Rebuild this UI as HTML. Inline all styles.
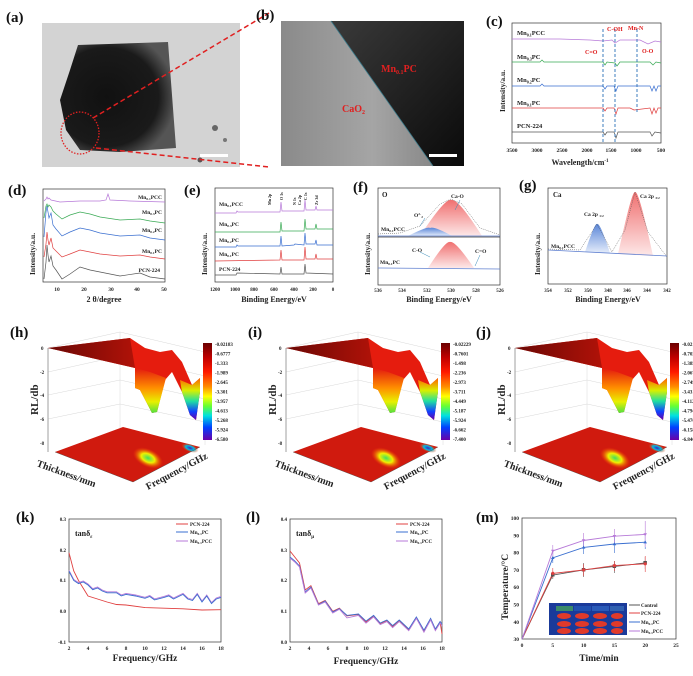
<!DOCTYPE html>
<html><head><meta charset="utf-8"><style>
html,body{margin:0;padding:0;background:#fff}
svg{display:block}
text{font-family:"Liberation Serif",serif;font-weight:bold;fill:#222}
.pl{font-size:15px;fill:#111}
.t{font-size:5.5px}
.al{font-size:9px}
.ax{fill:none;stroke:#333;stroke-width:0.7}
</style></head><body>
<svg width="693" height="676" viewBox="0 0 693 676" xmlns="http://www.w3.org/2000/svg">
<defs>
<linearGradient id="cb" x1="0" y1="0" x2="0" y2="1">
<stop offset="0" stop-color="#6a0000"/><stop offset=".15" stop-color="#c00000"/><stop offset=".3" stop-color="#ff1a00"/><stop offset=".45" stop-color="#ff8c00"/><stop offset=".55" stop-color="#ffff00"/><stop offset=".65" stop-color="#66ff33"/><stop offset=".75" stop-color="#00e0e0"/><stop offset=".87" stop-color="#0040ff"/><stop offset="1" stop-color="#6a00a8"/></linearGradient>
<linearGradient id="dip1" x1="0" y1="0" x2="0" y2="1"><stop offset="0" stop-color="#e31a0e"/><stop offset=".45" stop-color="#ff9000"/><stop offset=".75" stop-color="#e8f000"/><stop offset="1" stop-color="#50e040"/></linearGradient>
<linearGradient id="dip2" x1="0" y1="0" x2="0" y2="1"><stop offset="0" stop-color="#ff6000"/><stop offset=".3" stop-color="#d8f000"/><stop offset=".55" stop-color="#20e0a0"/><stop offset=".8" stop-color="#1040ff"/><stop offset="1" stop-color="#6a00a8"/></linearGradient>
<linearGradient id="wedge" x1="0" y1="0" x2="1" y2="0"><stop offset="0" stop-color="#6a0805"/><stop offset="1" stop-color="#b01208"/></linearGradient>
<radialGradient id="blob" cx=".5" cy=".5" r=".5"><stop offset="0" stop-color="#40e060"/><stop offset=".45" stop-color="#f0f000"/><stop offset="1" stop-color="#ff4000" stop-opacity="0"/></radialGradient>
<radialGradient id="blob2" cx=".5" cy=".5" r=".5"><stop offset="0" stop-color="#4020c0"/><stop offset=".5" stop-color="#00c0e0"/><stop offset="1" stop-color="#ff4000" stop-opacity="0"/></radialGradient>
<radialGradient id="tem" cx=".4" cy=".5" r=".6"><stop offset="0" stop-color="#111"/><stop offset=".75" stop-color="#1a1a1a"/><stop offset="1" stop-color="#555"/></radialGradient>
<linearGradient id="bimg" x1="0" y1="0" x2="1" y2="0"><stop offset="0" stop-color="#8a8a8a"/><stop offset=".5" stop-color="#a5a5a5"/><stop offset="1" stop-color="#7a7a7a"/></linearGradient>
<linearGradient id="bdark" x1="0" y1="0" x2="1" y2="1"><stop offset="0" stop-color="#3a3a3a"/><stop offset="1" stop-color="#0a0a0a"/></linearGradient>
<linearGradient id="redp" x1="0" y1="0" x2="0" y2="1"><stop offset="0" stop-color="#f07070"/><stop offset="1" stop-color="#fde8e8"/></linearGradient>
<linearGradient id="bluep" x1="0" y1="0" x2="0" y2="1"><stop offset="0" stop-color="#5a86d8"/><stop offset="1" stop-color="#e4ecfa"/></linearGradient>
<g id="s3d">
<path d="M48,348 L120,332 L205,352 L205,445 M48,348 L48,452 M120,332 L120,428 M48,372 L120,356 L205,376 M48,395 L120,380 L205,399 M48,419 L120,404 L205,422" fill="none" stroke="#d8d8d8" stroke-width="0.5"/>
<polygon points="55,452 123,427 200,447 133,482" fill="#d01a0e"/>
<ellipse cx="148" cy="458" rx="16" ry="9" fill="url(#blob)" transform="rotate(25 148 458)"/>
<ellipse cx="190" cy="448" rx="9" ry="4" fill="url(#blob2)" transform="rotate(20 190 448)"/>
<path d="M55,452 L133,482 L200,447" fill="none" stroke="#444" stroke-width="0.4"/>
<path d="M48,348 L130,338 L145,348 L160,352 L172,350 L182,362 L192,385 L200,378 L200,392 L196,420 L190,415 L182,392 L172,372 L165,380 L157,412 L152,413 L140,390 L135,388 L135,368 Z" fill="#e51c0e"/>
<path d="M48,348 L130,338 L135,368 Z" fill="url(#wedge)"/>
<path d="M135,368 L150,372 L166,378 L157,412 L152,413 L140,390 L135,388Z" fill="url(#dip1)"/>
<path d="M180,380 L192,385 L200,378 L200,392 L196,420 L190,415 L182,392Z" fill="url(#dip2)"/>
<line x1="48" y1="348" x2="48" y2="452" stroke="#555" stroke-width="0.5"/>
<g class="t" style="font-size:5px"><text x="41" y="350">0</text><text x="40" y="374">-2</text><text x="40" y="397">-4</text><text x="40" y="421">-6</text><text x="40" y="445">-8</text></g>
<rect x="203" y="343" width="9" height="97" fill="url(#cb)"/>
<text class="al" transform="translate(38,415) rotate(-90)" style="font-size:11px">RL/db</text>
<text class="al" transform="translate(36,466) rotate(20)" style="font-size:10px">Thickness/mm</text>
<text class="al" transform="translate(148,490) rotate(-28)" style="font-size:10px">Frequency/GHz</text>
</g>
</defs>

<!-- (a) -->
<text class="pl" x="6" y="22">(a)</text>
<rect x="42" y="23" width="198" height="144" fill="#d6d6d6"/>
<rect x="42" y="23" width="198" height="144" fill="#cfcfcf" opacity=".5"/>
<path d="M78,45 L168,42 L172,95 L176,148 L120,152 L80,150 L66,130 L60,100 L70,70 Z" fill="url(#tem)"/>
<circle cx="215" cy="128" r="3" fill="#666"/><circle cx="225" cy="140" r="2" fill="#777"/><circle cx="200" cy="160" r="2.5" fill="#555"/>
<ellipse cx="80" cy="133" rx="19" ry="21" fill="none" stroke="#e02020" stroke-width="1.3" stroke-dasharray="1.5,1.5"/>
<line x1="93" y1="118" x2="269" y2="13" stroke="#e02020" stroke-width="1.5" stroke-dasharray="5,3"/>
<line x1="96" y1="148" x2="269" y2="167" stroke="#e02020" stroke-width="1.5" stroke-dasharray="5,3"/>
<rect x="200" y="154" width="28" height="3" fill="#fff"/>
<!-- (b) -->
<text class="pl" x="256" y="20">(b)</text>
<rect x="281" y="21" width="183" height="145" fill="url(#bimg)"/>
<polygon points="331,21 464,21 464,166 433,166" fill="url(#bdark)"/>
<line x1="331" y1="21" x2="433" y2="166" stroke="#3a7a8a" stroke-width="0.8"/>
<text x="381" y="72" style="font-size:10px;fill:#e02020">Mn<tspan style="font-size:6px" dy="2">0.1</tspan><tspan dy="-2">PC</tspan></text>
<text x="342" y="112" style="font-size:10px;fill:#e02020">CaO<tspan style="font-size:6px" dy="2">2</tspan></text>
<rect x="429" y="154" width="28" height="3" fill="#fff"/>

<!-- (c) -->
<text class="pl" x="486" y="26">(c)</text>
<rect class="ax" x="512" y="23" width="149" height="120"/>
<g stroke-width="0.7" fill="none">
<path d="M512,39 L560,39 L590,40 L603,41 L612,40 L615,43 L620,40 L640,40 L648,44 L655,41 L661,42" stroke="#b77ad8"/>
<path d="M512,62 L540,62 L542,60 L544,62 L603,62 L605,65 L607,62 L615,63 L617,66 L620,62 L650,62 L653,65 L656,62 L661,63" stroke="#3aaa55"/>
<path d="M512,86 L540,86 L542,84 L544,86 L603,86 L605,89 L607,86 L614,86 L616,91 L618,86 L650,86 L652,91 L654,86 L656,91 L658,86 L661,86" stroke="#3a6fd0"/>
<path d="M512,108 L603,108 L605,111 L607,108 L614,108 L616,114 L618,108 L630,108 L634,110 L650,108 L652,114 L654,108 L656,113 L658,108 L661,108" stroke="#e04040"/>
<path d="M512,132 L603,132 L605,135 L607,132 L614,132 L616,138 L618,132 L650,132 L652,136 L655,132 L661,133" stroke="#555"/>
</g>
<g stroke="#2a6fb8" stroke-width="0.9" stroke-dasharray="3,2"><line x1="603" y1="29" x2="603" y2="143"/><line x1="615" y1="29" x2="615" y2="143"/><line x1="637" y1="29" x2="637" y2="112"/></g>
<g style="font-size:6.5px"><text x="517" y="35">Mn<tspan style="font-size:4px" dy="1.5">0.1</tspan><tspan dy="-1.5">PCC</tspan></text>
<text x="517" y="59">Mn<tspan style="font-size:4px" dy="1.5">0.3</tspan><tspan dy="-1.5">PC</tspan></text>
<text x="517" y="82">Mn<tspan style="font-size:4px" dy="1.5">0.2</tspan><tspan dy="-1.5">PC</tspan></text>
<text x="517" y="105">Mn<tspan style="font-size:4px" dy="1.5">0.1</tspan><tspan dy="-1.5">PC</tspan></text>
<text x="517" y="128">PCN-224</text></g>
<g style="font-size:6px;fill:#e02020"><text x="585" y="54" style="fill:#e02020">C=O</text><text x="607" y="31" style="fill:#e02020">C-OH</text><text x="628" y="30" style="fill:#e02020">Mn-N</text><text x="642" y="53" style="fill:#e02020">O-O</text></g>
<g class="t" text-anchor="middle"><text x="512" y="152">3500</text><text x="537" y="152">3000</text><text x="562" y="152">2500</text><text x="587" y="152">2000</text><text x="611" y="152">1500</text><text x="636" y="152">1000</text><text x="661" y="152">500</text></g>
<text class="al" x="580" y="165" text-anchor="middle" style="font-size:8px">Wavelength/cm<tspan style="font-size:5px" dy="-3">-1</tspan></text>
<text class="al" transform="translate(505,112) rotate(-90)" style="font-size:7.5px">Intensity/a.u.</text>

<!-- (d) -->
<text class="pl" x="8" y="195">(d)</text>
<rect class="ax" x="43" y="189" width="122" height="93"/>
<g fill="none" stroke-width="0.7">
<path d="M44,279 L46,262 L47,245 L48,255 L49,262 L51,256 L53,266 L56,270 L62,279 L70,274 L80,267 L90,270 L100,272 L120,276 L140,273 L150,277 L165,279" stroke="#555"/>
<path d="M44,257 L46,244 L47,232 L48,240 L49,245 L51,238 L53,248 L56,251 L62,257 L70,254 L80,250 L90,252 L100,254 L120,256 L140,255 L150,257 L165,259" stroke="#e04040"/>
<path d="M44,237 L46,212 L47,206 L48,212 L49,218 L51,213 L53,225 L56,229 L62,236 L70,232 L80,228 L90,230 L100,233 L120,236 L140,235 L150,238 L165,240" stroke="#3a6fd0"/>
<path d="M44,218 L46,206 L47,204 L48,207 L49,205 L51,207 L53,211 L56,214 L62,219 L70,215 L80,212 L90,214 L100,217 L120,220 L140,219 L150,221 L165,223" stroke="#3aaa55"/>
<path d="M44,201 L46,199 L47,197 L48,199 L49,198 L51,200 L60,202 L80,201 L100,201 L106,200 L108,194 L110,200 L130,201 L165,202" stroke="#b77ad8"/>
</g>
<g style="font-size:5.5px" text-anchor="end"><text x="162" y="199">Mn<tspan style="font-size:3.5px" dy="1">0.1</tspan><tspan dy="-1">PCC</tspan></text><text x="162" y="214">Mn<tspan style="font-size:3.5px" dy="1">0.3</tspan><tspan dy="-1">PC</tspan></text><text x="162" y="232">Mn<tspan style="font-size:3.5px" dy="1">0.2</tspan><tspan dy="-1">PC</tspan></text><text x="162" y="253">Mn<tspan style="font-size:3.5px" dy="1">0.1</tspan><tspan dy="-1">PC</tspan></text><text x="160" y="272">PCN-224</text></g>
<g class="t" text-anchor="middle"><text x="57" y="291">10</text><text x="84" y="291">20</text><text x="111" y="291">30</text><text x="137" y="291">40</text><text x="164" y="291">50</text></g>
<text class="al" x="104" y="302" text-anchor="middle" style="font-size:8px">2 θ/degree</text>
<text class="al" transform="translate(35,275) rotate(-90)" style="font-size:7.5px">Intensity/a.u.</text>

<!-- (e) -->
<text class="pl" x="184" y="195">(e)</text>
<rect class="ax" x="215" y="188" width="118" height="94"/>
<g fill="none" stroke-width="0.7">
<path d="M215,213 L236,213 L237,211 L238,212 L280,212 L281,202 L282,211 L304,211 L305,200 L306,210 L315,210 L316,206 L317,210 L333,210" stroke="#b77ad8"/>
<path d="M215,232 L280,232 L281,222 L282,231 L304,231 L305,219 L306,229 L315,229 L316,224 L317,229 L333,229" stroke="#3aaa55"/>
<path d="M215,247 L236,247 L237,245 L238,246 L280,246 L281,236 L282,246 L294,245 L295,244 L304,245 L305,233 L306,244 L315,244 L316,240 L317,245 L333,245" stroke="#3a6fd0"/>
<path d="M215,261 L280,260 L281,250 L282,260 L304,260 L305,247 L306,259 L315,259 L316,254 L317,259 L333,259" stroke="#e04040"/>
<path d="M215,275 L236,275 L237,273 L280,274 L281,267 L282,274 L304,274 L305,264 L306,273 L333,274" stroke="#555"/>
</g>
<g style="font-size:5.5px"><text x="219" y="206">Mn<tspan style="font-size:3.5px" dy="1">0.1</tspan><tspan dy="-1">PCC</tspan></text><text x="219" y="226">Mn<tspan style="font-size:3.5px" dy="1">0.3</tspan><tspan dy="-1">PC</tspan></text><text x="219" y="242">Mn<tspan style="font-size:3.5px" dy="1">0.2</tspan><tspan dy="-1">PC</tspan></text><text x="219" y="256">Mn<tspan style="font-size:3.5px" dy="1">0.1</tspan><tspan dy="-1">PC</tspan></text><text x="219" y="271">PCN-224</text></g>
<g style="font-size:4px"><text transform="translate(271,205) rotate(-90)">Mn 2p</text><text transform="translate(283,200) rotate(-90)">O 1s</text><text transform="translate(296,205) rotate(-90)">N 1s</text><text transform="translate(301,205) rotate(-90)">Ca 2p</text><text transform="translate(307,200) rotate(-90)">C 1s</text><text transform="translate(318,205) rotate(-90)">Zr 3d</text></g>
<g class="t" text-anchor="middle" style="font-size:5px"><text x="215" y="291">1200</text><text x="235" y="291">1000</text><text x="254" y="291">800</text><text x="274" y="291">600</text><text x="294" y="291">400</text><text x="313" y="291">200</text><text x="333" y="291">0</text></g>
<text class="al" x="274" y="302" text-anchor="middle" style="font-size:8px">Binding Energy/eV</text>
<text class="al" transform="translate(207,275) rotate(-90)" style="font-size:7.5px">Intensity/a.u.</text>

<!-- (f) -->
<text class="pl" x="353" y="192">(f)</text>
<rect class="ax" x="378" y="188" width="122" height="97"/>
<line x1="378" y1="237" x2="500" y2="237" stroke="#333" stroke-width="0.7"/>
<path d="M420,236 Q445,198 451,200 Q458,198 482,236 Z" fill="url(#redp)"/>
<path d="M408,236 Q428,226 430,228 Q434,226 452,236 Z" fill="url(#bluep)"/>
<path d="M378,234 L400,233 L420,226 L440,204 L451,199 L462,204 L480,228 L500,235" fill="none" stroke="#555" stroke-width="0.5" stroke-dasharray="1,1"/>
<line x1="378" y1="236" x2="500" y2="236" stroke="#6080d0" stroke-width="0.7"/>
<path d="M428,268 Q446,240 450,242 Q455,240 474,268 Z" fill="url(#redp)"/>
<line x1="378" y1="268" x2="500" y2="269" stroke="#6080d0" stroke-width="0.8"/>
<path d="M420,226 L425,218 M455,210 L460,200 M430,257 L420,252 M475,266 L480,255" stroke="#3a8ab8" stroke-width="0.5"/>
<g style="font-size:5.5px"><text x="382" y="197" style="font-size:7px">O</text><text x="451" y="198">Ca-O</text><text x="414" y="217">O<tspan style="font-size:3.5px" dy="-2">2-</tspan><tspan style="font-size:3.5px" dy="3">2</tspan></text>
<text x="381" y="231">Mn<tspan style="font-size:3.5px" dy="1">0.1</tspan><tspan dy="-1">PCC</tspan></text><text x="412" y="252">C-O</text><text x="475" y="253">C=O</text><text x="380" y="264">Mn<tspan style="font-size:3.5px" dy="1">0.1</tspan><tspan dy="-1">PC</tspan></text></g>
<g class="t" text-anchor="middle" style="font-size:5px"><text x="378" y="292">536</text><text x="402" y="292">534</text><text x="427" y="292">532</text><text x="451" y="292">530</text><text x="476" y="292">528</text><text x="500" y="292">526</text></g>
<text class="al" x="439" y="302" text-anchor="middle" style="font-size:8px">Binding Energy/eV</text>
<text class="al" transform="translate(370,275) rotate(-90)" style="font-size:7.5px">Intensity/a.u.</text>

<!-- (g) -->
<text class="pl" x="519" y="190">(g)</text>
<rect class="ax" x="548" y="188" width="119" height="96"/>
<path d="M618,254 Q632,190 635,192 Q639,190 653,256 Z" fill="url(#redp)"/>
<path d="M585,252 Q595,222 597,224 Q600,222 610,253 Z" fill="url(#bluep)"/>
<path d="M548,249 L580,250 L597,224 L612,252 L625,230 L635,192 L648,232 L667,257" fill="none" stroke="#555" stroke-width="0.5" stroke-dasharray="1,1"/>
<line x1="548" y1="250" x2="667" y2="256" stroke="#6080d0" stroke-width="0.8"/>
<g style="font-size:5.5px"><text x="553" y="197" style="font-size:7px">Ca</text><text x="584" y="216">Ca 2p <tspan style="font-size:3.5px" dy="1">1/2</tspan></text><text x="640" y="198">Ca 2p <tspan style="font-size:3.5px" dy="1">3/2</tspan></text><text x="551" y="248">Mn<tspan style="font-size:3.5px" dy="1">0.1</tspan><tspan dy="-1">PCC</tspan></text></g>
<g class="t" text-anchor="middle" style="font-size:5px"><text x="548" y="292">354</text><text x="568" y="292">352</text><text x="588" y="292">350</text><text x="608" y="292">348</text><text x="627" y="292">346</text><text x="647" y="292">344</text><text x="667" y="292">342</text></g>
<text class="al" x="608" y="302" text-anchor="middle" style="font-size:8px">Binding Energy/eV</text>
<text class="al" transform="translate(540,275) rotate(-90)" style="font-size:7.5px">Intensity/a.u.</text>

<!-- (h)(i)(j) -->
<text class="pl" x="10" y="337">(h)</text>
<text class="pl" x="248" y="337">(i)</text>
<text class="pl" x="476" y="337">(j)</text>
<use href="#s3d"/>
<use href="#s3d" transform="translate(238,0)"/>
<use href="#s3d" transform="translate(467,0)"/>
<g class="t" style="font-size:5px">
<text x="215" y="346">-0.02183</text><text x="215" y="355.5">-0.6777</text><text x="215" y="365">-1.333</text><text x="215" y="374.5">-1.989</text><text x="215" y="384">-2.645</text><text x="215" y="393.5">-3.301</text><text x="215" y="403">-3.957</text><text x="215" y="412.5">-4.613</text><text x="215" y="422">-5.268</text><text x="215" y="431.5">-5.924</text><text x="215" y="441">-6.580</text>
<text x="453" y="346">-0.02229</text><text x="453" y="355.5">-0.7601</text><text x="453" y="365">-1.498</text><text x="453" y="374.5">-2.236</text><text x="453" y="384">-2.973</text><text x="453" y="393.5">-3.711</text><text x="453" y="403">-4.449</text><text x="453" y="412.5">-5.187</text><text x="453" y="422">-5.924</text><text x="453" y="431.5">-6.662</text><text x="453" y="441">-7.400</text>
<text x="682" y="346">-0.02101</text><text x="682" y="355.5">-0.7029</text><text x="682" y="365">-1.385</text><text x="682" y="374.5">-2.067</text><text x="682" y="384">-2.749</text><text x="682" y="393.5">-3.431</text><text x="682" y="403">-4.112</text><text x="682" y="412.5">-4.794</text><text x="682" y="422">-5.476</text><text x="682" y="431.5">-6.158</text><text x="682" y="441">-6.840</text>
</g>

<!-- (k) -->
<text class="pl" x="16" y="522">(k)</text>
<rect class="ax" x="69" y="519" width="152" height="123"/>
<polyline fill="none" stroke="#e04040" stroke-width="0.9" points="69,552.8 73.75,571 78.5,580.5 88,596 97.5,599 107,602 116.5,604.5 126,605 145,607.6 164,608.2 183,608.8 202,610 221,609.7"/>
<polyline fill="none" stroke="#b77ad8" stroke-width="0.9" points="69,570.3 73.75,579.5 78.5,582.6 83.25,581 88,584 92.75,588.7 97.5,587 102.25,590 107,591.8 116.5,591.8 121.25,594.9 126,593.4 135.5,595 145,597.3 149.75,595.5 154.5,598.9 164,596.4 168.75,594.9 173.5,598 183,593.4 187.75,598 192.5,599.5 197.25,593.4 202,601 206.75,595 211.5,602.6 216.25,598 221,596.4"/>
<polyline fill="none" stroke="#3a6fd0" stroke-width="0.9" points="69,571.3 73.75,580.5 78.5,583.6 83.25,582 88,585 92.75,589.7 97.5,588 102.25,591 107,592.8 116.5,592.8 121.25,595.9 126,594.4 135.5,596 145,598.3 149.75,596.5 154.5,599.9 164,597.4 168.75,595.9 173.5,599 183,594.4 187.75,599 192.5,600.5 197.25,594.4 202,602 206.75,596 211.5,603.6 216.25,599 221,597.4"/>
<g style="font-size:5px"><line x1="176" y1="524" x2="188" y2="524" stroke="#e04040"/><text x="190" y="526">PCN-224</text><line x1="176" y1="532" x2="188" y2="532" stroke="#3a6fd0"/><text x="190" y="534">Mn<tspan style="font-size:3.5px" dy="1">0.1</tspan><tspan dy="-1">PC</tspan></text><line x1="176" y1="541" x2="188" y2="541" stroke="#b77ad8"/><text x="190" y="543">Mn<tspan style="font-size:3.5px" dy="1">0.1</tspan><tspan dy="-1">PCC</tspan></text></g>
<text x="75" y="536" style="font-size:8px">tanδ<tspan style="font-size:5px" dy="2">ε</tspan></text>
<g class="t" text-anchor="end" style="font-size:5px"><text x="66" y="521">0.3</text><text x="66" y="552">0.2</text><text x="66" y="582">0.1</text><text x="66" y="613">0.0</text><text x="66" y="644">-0.1</text></g>
<g class="t" text-anchor="middle" style="font-size:5.5px"><text x="69" y="650">2</text><text x="88" y="650">4</text><text x="107" y="650">6</text><text x="126" y="650">8</text><text x="145" y="650">10</text><text x="164" y="650">12</text><text x="183" y="650">14</text><text x="202" y="650">16</text><text x="221" y="650">18</text></g>
<text class="al" x="145" y="661" text-anchor="middle" style="font-size:9.5px">Frequency/GHz</text>

<!-- (l) -->
<text class="pl" x="246" y="522">(l)</text>
<rect class="ax" x="290" y="519" width="152" height="123"/>
<polyline fill="none" stroke="#e04040" stroke-width="0.9" points="290,551 294.75,557 299.5,563 305.2,590 310.9,585.7 318.5,603.6 325.15,600.5 332.75,611.25 339.4,608.2 347,615.9 358.4,614.4 366,622.1 373.6,615.9 380.25,623.6 386.9,620.6 392.6,626.6 399.25,620.6 408.75,629.7 416.35,617.4 423.95,631.2 430.6,618.9 435.35,629.7 440.1,622 442,634"/>
<polyline fill="none" stroke="#3a6fd0" stroke-width="0.9" points="290,557 294.75,561 299.5,566 305.2,592 310.9,587 318.5,604.6 325.15,601 332.75,612 339.4,608.7 347,615.4 358.4,614 366,621.1 373.6,615.4 380.25,623 386.9,620 392.6,625.6 399.25,620 408.75,629 416.35,617 423.95,630.2 430.6,618.4 435.35,629 440.1,621.5 442,624"/>
<polyline fill="none" stroke="#b77ad8" stroke-width="0.9" points="290,558 294.75,562 299.5,567 305.2,593 310.9,588 318.5,605 325.15,602 332.75,613 339.4,609.2 347,617.9 358.4,615.4 366,623.1 373.6,616.9 380.25,624.6 386.9,621.6 392.6,627.6 399.25,621.6 408.75,630.7 416.35,618.4 423.95,632.2 430.6,619.9 435.35,630.7 440.1,623 442,626"/>
<g style="font-size:5px"><line x1="396" y1="524" x2="408" y2="524" stroke="#e04040"/><text x="410" y="526">PCN-224</text><line x1="396" y1="532" x2="408" y2="532" stroke="#3a6fd0"/><text x="410" y="534">Mn<tspan style="font-size:3.5px" dy="1">0.1</tspan><tspan dy="-1">PC</tspan></text><line x1="396" y1="541" x2="408" y2="541" stroke="#b77ad8"/><text x="410" y="543">Mn<tspan style="font-size:3.5px" dy="1">0.1</tspan><tspan dy="-1">PCC</tspan></text></g>
<text x="296" y="536" style="font-size:8px">tanδ<tspan style="font-size:5px" dy="2">μ</tspan></text>
<g class="t" text-anchor="end" style="font-size:5px"><text x="287" y="521">0.4</text><text x="287" y="552">0.3</text><text x="287" y="582">0.2</text><text x="287" y="613">0.1</text><text x="287" y="644">0.0</text></g>
<g class="t" text-anchor="middle" style="font-size:5.5px"><text x="290" y="650">2</text><text x="309" y="650">4</text><text x="328" y="650">6</text><text x="347" y="650">8</text><text x="366" y="650">10</text><text x="385" y="650">12</text><text x="404" y="650">14</text><text x="423" y="650">16</text><text x="442" y="650">18</text></g>
<text class="al" x="366" y="664" text-anchor="middle" style="font-size:9.5px">Frequency/GHz</text>

<!-- (m) -->
<text class="pl" x="476" y="522">(m)</text>
<rect class="ax" x="522" y="518" width="154" height="121"/>
<g stroke-width="0.6" fill="none">
<path d="M552.8,571 v8 M583.6,563 v14 M614.4,561 v12 M645.2,557 v12" stroke="#555"/>
<path d="M552.8,568 v10 M583.6,564 v12 M614.4,561 v10 M645.2,556 v16" stroke="#e04040"/>
<path d="M552.8,551 v12 M583.6,540 v14 M614.4,535 v18 M645.2,535 v14" stroke="#3a6fd0"/>
<path d="M552.8,545 v12 M583.6,533 v14 M614.4,529 v14 M645.2,521 v26" stroke="#b77ad8"/>
</g>
<polyline fill="none" stroke="#555" stroke-width="0.9" points="522,639.1 552.8,575.1 583.6,569.9 614.4,566.4 645.2,563"/>
<polyline fill="none" stroke="#e04040" stroke-width="0.9" points="522,639.1 552.8,573.4 583.6,569.9 614.4,565.6 645.2,563.8"/>
<polyline fill="none" stroke="#3a6fd0" stroke-width="0.9" points="522,639.1 552.8,557.8 583.6,547.4 614.4,544 645.2,542.2"/>
<polyline fill="none" stroke="#b77ad8" stroke-width="0.9" points="522,639.1 552.8,550.9 583.6,540.5 614.4,536.2 645.2,534.4"/>
<g fill="#555"><rect x="551" y="573" width="3.5" height="3.5"/><rect x="581.8" y="568" width="3.5" height="3.5"/><rect x="612.6" y="564.5" width="3.5" height="3.5"/><rect x="643.4" y="561" width="3.5" height="3.5"/></g>
<g fill="#e04040"><circle cx="552.8" cy="573.4" r="1.6"/><circle cx="583.6" cy="569.9" r="1.6"/><circle cx="614.4" cy="565.6" r="1.6"/><circle cx="645.2" cy="563.8" r="1.6"/></g>
<g fill="#3a6fd0"><path d="M552.8,556 l1.8,3 h-3.6Z M583.6,545.6 l1.8,3 h-3.6Z M614.4,542.2 l1.8,3 h-3.6Z M645.2,540.4 l1.8,3 h-3.6Z"/></g>
<g fill="#b77ad8"><path d="M552.8,552.7 l1.8,-3 h-3.6Z M583.6,542.3 l1.8,-3 h-3.6Z M614.4,538 l1.8,-3 h-3.6Z M645.2,536.2 l1.8,-3 h-3.6Z"/></g>
<!-- inset -->
<rect x="549" y="603" width="78" height="32" fill="#1a3a9a"/>
<rect x="556" y="606" width="17" height="5" fill="#3a8a6a"/><rect x="574" y="606" width="17" height="5" fill="#2050b0"/><rect x="592" y="606" width="17" height="5" fill="#2a5ab8"/><rect x="610" y="606" width="14" height="5" fill="#3060b0"/>
<g fill="#e03a2a"><ellipse cx="564" cy="616" rx="7" ry="3"/><ellipse cx="582" cy="616" rx="7" ry="3"/><ellipse cx="600" cy="616" rx="7" ry="3"/><ellipse cx="617" cy="616" rx="6" ry="3"/>
<ellipse cx="564" cy="624" rx="7" ry="3"/><ellipse cx="582" cy="624" rx="7" ry="3"/><ellipse cx="600" cy="624" rx="7" ry="3"/><ellipse cx="617" cy="624" rx="6" ry="3"/>
<ellipse cx="564" cy="631" rx="7" ry="3"/><ellipse cx="582" cy="631" rx="7" ry="3"/><ellipse cx="600" cy="631" rx="7" ry="3"/><ellipse cx="617" cy="631" rx="6" ry="3"/></g>
<g style="font-size:5px"><line x1="629" y1="605" x2="640" y2="605" stroke="#555"/><text x="641" y="607">Control</text><line x1="629" y1="613" x2="640" y2="613" stroke="#e04040"/><text x="641" y="615">PCN-224</text><line x1="629" y1="622" x2="640" y2="622" stroke="#3a6fd0"/><text x="641" y="624">Mn<tspan style="font-size:3.5px" dy="1">0.1</tspan><tspan dy="-1">PC</tspan></text><line x1="629" y1="631" x2="640" y2="631" stroke="#b77ad8"/><text x="641" y="633">Mn<tspan style="font-size:3.5px" dy="1">0.1</tspan><tspan dy="-1">PCC</tspan></text></g>
<g class="t" text-anchor="end" style="font-size:5.5px"><text x="519" y="520">100</text><text x="519" y="537.3">90</text><text x="519" y="554.6">80</text><text x="519" y="571.9">70</text><text x="519" y="589.2">60</text><text x="519" y="606.5">50</text><text x="519" y="623.8">40</text><text x="519" y="641">30</text></g>
<g class="t" text-anchor="middle" style="font-size:5.5px"><text x="522" y="647">0</text><text x="552.8" y="647">5</text><text x="583.6" y="647">10</text><text x="614.4" y="647">15</text><text x="645.2" y="647">20</text><text x="676" y="647">25</text></g>
<text class="al" x="599" y="661" text-anchor="middle" style="font-size:9.5px">Time/min</text>
<text class="al" transform="translate(508,620) rotate(-90)" style="font-size:9.5px">Temperature/°C</text>
</svg>
</body></html>
